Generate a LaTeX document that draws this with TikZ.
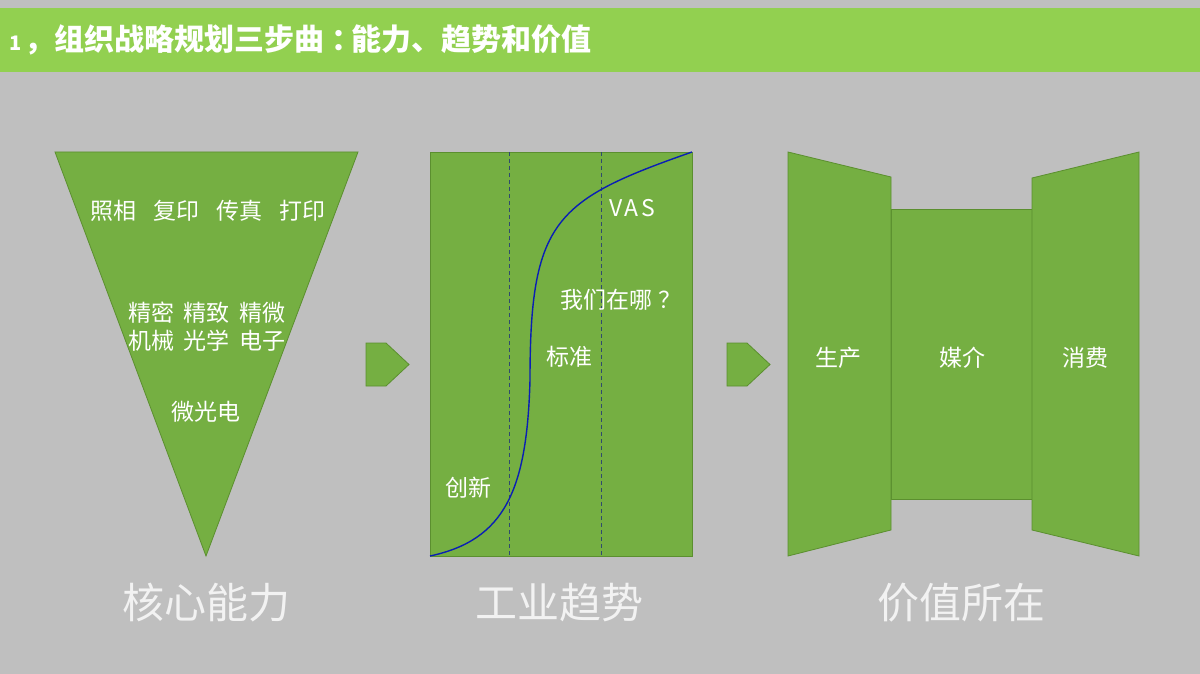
\documentclass[tikz,border=0pt]{standalone}
\usepackage{fontspec}
\setmainfont{Noto Sans CJK SC}
\usetikzlibrary{positioning}
\definecolor{bgGray}{HTML}{BFBFBF}
\definecolor{barGreen}{HTML}{92D050}
\definecolor{shapeGreen}{HTML}{75AF42}
\definecolor{edgeGreen}{HTML}{5B8F2F}
\definecolor{curveBlue}{HTML}{0A1FB4}
\definecolor{dashBlue}{HTML}{2F4A6E}
\definecolor{captionGray}{HTML}{F2F2F2}

\begin{document}
\begin{tikzpicture}
          [x=1pt,y=-1pt,
           block/.style={fill=shapeGreen,draw=edgeGreen,line width=0.8pt},
           every node/.style={text=white,inner sep=0pt,font=\fontsize{23}{27}\selectfont},
           caption/.style={text=captionGray,font=\fontsize{42}{46}\selectfont}]
          \fill[bgGray] (0,0) rectangle (1200,674);
          \useasboundingbox (0,0) rectangle (1200,674);
          \fill[barGreen] (0,8) rectangle (1200,72);
          \node[anchor=west,font=\fontsize{30}{34}\selectfont\bfseries] (title) at (9,40)
            {{\fontsize{20}{24}\selectfont 1}\kern3pt，组织战略规划三步曲\kern7pt：\kern-10pt能力、趋势和价值};

          \draw[block] (55,152) -- (358,152) -- (206,556) -- cycle;
          \draw[block] (430,152) rectangle (692,556);
          \draw[block] (891,209) rectangle (1032,499);
          \draw[block] (788,152) -- (891,177) -- (891,530) -- (788,556) -- cycle;
          \draw[block] (1032,178) -- (1139,152) -- (1139,556) -- (1032,530) -- cycle;

          \foreach \dx in {0,361}
            \draw[block,xshift=\dx] (366,343) -- (386,343) -- (409,364.5) -- (386,386) -- (366,386) -- cycle;

          \foreach \x in {509,601}
            \draw[dashBlue,line width=0.6pt,dash pattern=on 4pt off 3pt] (\x,152) -- (\x,556);
          \draw[curveBlue,line width=1.4pt] (430,556) .. controls (505,540) and (527,490) .. (530,380)
            .. controls (530,220) and (555,200) .. (692,152);

          \node (photo) at (208,211) {照相\hspace{0.75em}复印\hspace{0.75em}传真\hspace{0.75em}打印};
          \node (precise) at (207,313) {精密\hspace{0.4em}精致\hspace{0.4em}精微};
          \node (mech) at (207,341) {机械\hspace{0.4em}光学\hspace{0.4em}电子};
          \node (micro) at (206,412) {微光电};

          \node (vas) at (632,208) {V\kern2.5pt A\kern2.5pt S};
          \node (where) at (621,300) {我们在哪\kern6pt？};
          \node (std) at (569,357) {标准};
          \node (innov) at (468,488) {创新};

          \node (prod) at (838,358) {生产};
          \node (media) at (962,358) {媒介};
          \node (consume) at (1085,358) {消费};

          \node[caption] (core) at (206,603) {核心能力};
          \node[caption] (trend) at (559,603) {工业趋势};
          \node[caption] (value) at (961,603) {价值所在};

        \end{tikzpicture}
\end{document}
